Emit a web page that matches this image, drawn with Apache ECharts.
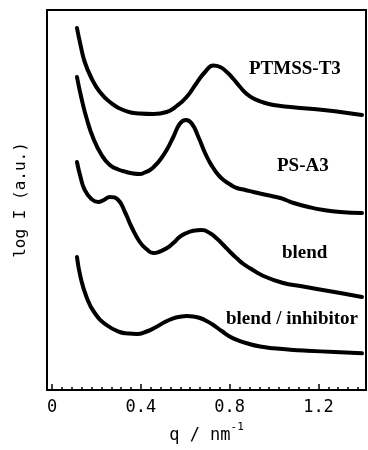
<!DOCTYPE html>
<html>
<head>
<meta charset="utf-8">
<script src="https://cdn.jsdelivr.net/npm/echarts@6/dist/echarts.min.js"></script>
<style>html,body{margin:0;padding:0;background:#fff;}#c{width:368px;height:450px;}</style>
</head>
<body>
<div id="c"></div>
<script>
// q / nm^-1 and log I (arbitrary units, offset curves)
const qPTMSS = [0.112,0.128,0.147,0.177,0.215,0.260,0.320,0.395,0.456,0.516,0.561,0.606,0.651,0.689,0.726,0.757,0.787,0.817,0.847,0.877,0.907,0.952,0.997,1.073,1.148,1.223,1.298,1.396];
const iPTMSS = [362,345,328,312,298,288,280,276.5,276,278,284,293,307,318,324.5,323,318,311,303,296,291.5,287.5,285,283,281.5,280,278,275];

const qPSA3 = [0.112,0.132,0.155,0.185,0.223,0.260,0.298,0.335,0.365,0.395,0.418,0.441,0.464,0.486,0.516,0.546,0.576,0.603,0.629,0.659,0.689,0.707,0.726,0.749,0.772,0.802,0.832,0.870,0.907,0.967,1.028,1.058,1.088,1.155,1.223,1.298,1.396];
const iPSA3 = [313,292,272,252,235,225,220.5,218,216.5,216,217.5,220,224.5,230,240,253,266.5,270,266.5,253,237,229,222,215,210,205.5,202,200,198,195,192,189.5,187,183,180,178,177];

const qBlend = [0.112,0.128,0.147,0.177,0.207,0.233,0.260,0.298,0.328,0.358,0.395,0.425,0.456,0.486,0.516,0.546,0.576,0.606,0.636,0.674,0.712,0.742,0.772,0.802,0.832,0.862,0.892,0.952,1.042,1.118,1.193,1.298,1.396];
const iBlend = [228,213,200,191,188,190,193,190,178,163,148,141,137,138.5,141.7,147,153.3,157,159.3,160,156.7,151.5,145,138,131.7,126,121.7,114,107,104,101,97,93];

const qInhib = [0.112,0.128,0.155,0.192,0.245,0.305,0.345,0.381,0.426,0.471,0.508,0.546,0.576,0.606,0.636,0.666,0.696,0.726,0.764,0.802,0.840,0.877,0.937,0.997,1.073,1.148,1.273,1.396];
const iInhib = [133,113,93,77,65,58,56.5,56,58.5,63.3,68,71.7,73.3,74,73.5,72,69,65,59,53.3,49.5,46.7,43.5,41.7,40.3,39.3,38,36.7];

const seriesNames = ['PTMSS-T3','PS-A3','blend','blend / inhibitor'];
const majorTicks = [0, 0.4, 0.8, 1.2];
const tickLabels = ['0', '0.4', '0.8', '1.2'];
const minorPerMajor = 9;
const xMin = -0.023, xMax = 1.414;

const minorTicks = [];
for (let k = 0; k < majorTicks.length; k++) {
  const step = 0.4 / minorPerMajor;
  for (let j = 1; j < minorPerMajor; j++) {
    const v = majorTicks[k] + j * step;
    if (v < xMax) minorTicks.push(+v.toFixed(4));
  }
}

function pairs(xs, ys) { return xs.map((x, i) => [x, ys[i]]); }

const chart = echarts.init(document.getElementById('c'), null, {renderer: 'canvas'});
const lineSeries = [[qPTMSS,iPTMSS],[qPSA3,iPSA3],[qBlend,iBlend],[qInhib,iInhib]].map((d, i) => ({
  name: seriesNames[i],
  type: 'line',
  xAxisIndex: 0,
  data: pairs(d[0], d[1]),
  smooth: 0.5,
  showSymbol: false,
  lineStyle: {color: '#000', width: 4, cap: 'round', join: 'round'},
  animation: false
}));

const labelFont = 'bold 19px "Liberation Serif", "Times New Roman", serif';
chart.setOption({
  animation: false,
  backgroundColor: '#fff',
  grid: {left: 47, right: 2, top: 10, bottom: 60, show: true, borderColor: '#000', borderWidth: 2, backgroundColor: 'transparent'},
  xAxis: [{
    type: 'value', min: xMin, max: xMax, position: 'bottom',
    axisLine: {show: true, onZero: false, lineStyle: {color: '#000', width: 2}},
    axisTick: {show: true, inside: true, length: 6, customValues: majorTicks, lineStyle: {color: '#000', width: 1.5}},
    axisLabel: {show: true, customValues: majorTicks, margin: 9, color: '#000', fontSize: 17, fontFamily: '"DejaVu Sans Mono", monospace',
      formatter: v => { const i = majorTicks.findIndex(t => Math.abs(t - v) < 1e-6); return i >= 0 ? tickLabels[i] : ''; }},
    splitLine: {show: false},
    name: '{a|q / nm}{s|-1}', nameLocation: 'middle', nameGap: 32,
    nameTextStyle: {rich: {
      a: {fontSize: 17, fontFamily: '"DejaVu Sans Mono", monospace', color: '#000', verticalAlign: 'bottom', lineHeight: 22},
      s: {fontSize: 11, fontFamily: '"DejaVu Sans Mono", monospace', color: '#000', verticalAlign: 'top', lineHeight: 22}
    }}
  }, {
    type: 'value', min: xMin, max: xMax, position: 'bottom',
    axisLine: {show: false, onZero: false},
    axisTick: {show: true, inside: true, length: 3, customValues: minorTicks, lineStyle: {color: '#000', width: 1.5}},
    axisLabel: {show: false},
    splitLine: {show: false}
  }],
  yAxis: {
    type: 'value', min: 0, max: 380,
    axisLine: {show: true, onZero: false, lineStyle: {color: '#000', width: 2}},
    axisTick: {show: false}, axisLabel: {show: false}, splitLine: {show: false},
    name: 'log I (a.u.)', nameLocation: 'middle', nameGap: 18,
    nameTextStyle: {fontSize: 16, fontFamily: '"DejaVu Sans Mono", monospace', color: '#000'}
  },
  series: lineSeries,
  graphic: [
    {type: 'text', x: 249, y: 69, style: {text: seriesNames[0], font: labelFont, fill: '#000', align: 'left', verticalAlign: 'middle'}},
    {type: 'text', x: 277, y: 166.5, style: {text: seriesNames[1], font: labelFont, fill: '#000', align: 'left', verticalAlign: 'middle'}},
    {type: 'text', x: 282, y: 253.5, style: {text: seriesNames[2], font: labelFont, fill: '#000', align: 'left', verticalAlign: 'middle'}},
    {type: 'text', x: 226, y: 319, style: {text: seriesNames[3], font: labelFont, fill: '#000', align: 'left', verticalAlign: 'middle'}}
  ]
});
</script>
</body>
</html>
